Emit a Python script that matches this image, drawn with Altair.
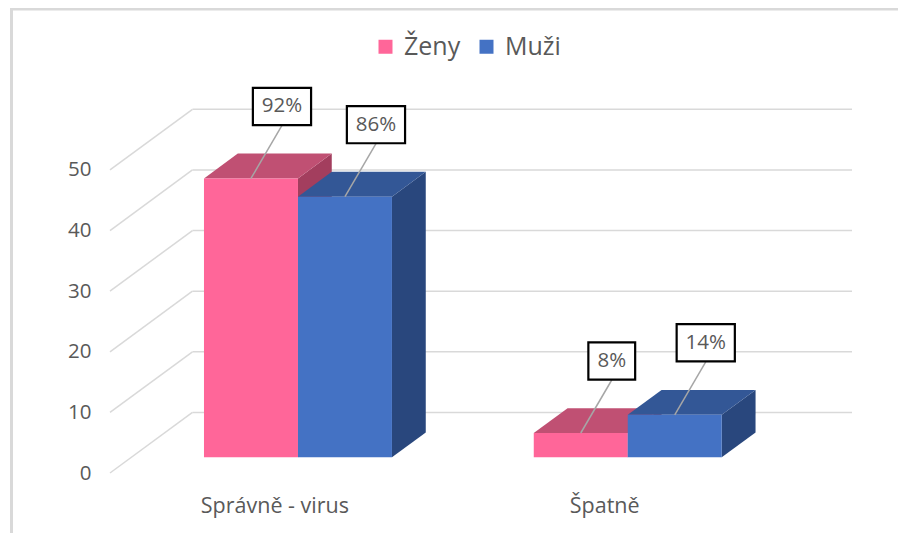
import altair as alt
import pandas as pd

# ---------------- data ----------------
categories = ["Správně - virus", "Špatně"]
series = ["Ženy", "Muži"]
zeny = [46, 4]
muzi = [43, 7]
zeny_labels = ["92%", "8%"]
muzi_labels = ["86%", "14%"]
y_ticks = [0, 10, 20, 30, 40, 50]

# ---------------- styling / 3D geometry constants ----------------
FONT = "Open Sans"
TEXT = "#595959"
GRID = "#d9d9d9"
front_col = {"Ženy": "#FF6699", "Muži": "#4472C4"}
top_col = {"Ženy": "#C05073", "Muži": "#335796"}
side_col = {"Ženy": "#A33E5E", "Muži": "#29477D"}

DX = 0.25      # depth of the floor in category units (x)
DY = 10        # depth of the floor in value units (y)
D0, D1 = 0.26, 0.67   # front / back of the bars as fraction of depth
GROUP_OFF = 0.22
BW = 0.285
W, H = 742, 400
XMAX = 2 + DX
YMAX = 66

values = {"Ženy": zeny, "Muži": muzi}
labels = {"Ženy": zeny_labels, "Muži": muzi_labels}

front_rows, top_rows, side_rows = [], [], []
for i, cat in enumerate(categories):
    for j, s in enumerate(series):
        v = values[s][i]
        bid = f"{i}-{j}"
        x0 = i + GROUP_OFF + j * BW
        x1 = x0 + BW
        fx0, fx1 = x0 + D0 * DX, x1 + D0 * DX
        bx0, bx1 = x0 + D1 * DX, x1 + D1 * DX
        fyt, fyb = v + D0 * DY, D0 * DY
        byt, byb = v + D1 * DY, D1 * DY
        front_rows.append(dict(series=s, x=fx0, x2=fx1, y=fyb, y2=fyt,
                               cx=(fx0 + fx1) / 2, label=labels[s][i],
                               box=("M-0.97,-0.62h1.94v1.24h-1.94Z" if len(labels[s][i]) > 2
                                    else "M-0.78,-0.62h1.56v1.24h-1.56Z")))
        for xx, lo, hi in [(fx0, fyt, fyt), (bx0, fyt, byt), (fx1, fyt, byt), (bx1, byt, byt)]:
            top_rows.append(dict(bid=bid, col=top_col[s], x=xx, lo=lo, hi=hi))
        for xx, lo, hi in [(fx1, fyb, fyt), (bx1, byb, byt)]:
            side_rows.append(dict(bid=bid, col=side_col[s], x=xx, lo=lo, hi=hi))

front = pd.DataFrame(front_rows)
tops = pd.DataFrame(top_rows)
sides = pd.DataFrame(side_rows)
grid = pd.DataFrame({"v": y_ticks,
                     "x0": [0] * len(y_ticks), "x1": [DX] * len(y_ticks),
                     "x2": [2 + DX] * len(y_ticks),
                     "vb": [t + DY for t in y_ticks]})
cats = pd.DataFrame({"cat": categories, "x": [i + 0.5 for i in range(len(categories))], "y": [0] * len(categories)})

xs = alt.Scale(domain=[0, XMAX], nice=False, zero=False)
ys = alt.Scale(domain=[0, YMAX], nice=False, zero=False)

diag = alt.Chart(grid).mark_rule(color=GRID, strokeWidth=1.5).encode(
    x=alt.X("x0:Q", scale=xs, axis=None), x2="x1:Q",
    y=alt.Y("v:Q", scale=ys, axis=alt.Axis(values=y_ticks, ticks=False, domain=False, grid=False,
                                           labelPadding=19, labelFontSize=20.5, labelColor=TEXT,
                                           labelFont=FONT, title=None)),
    y2="vb:Q")
back = alt.Chart(grid).mark_rule(color=GRID, strokeWidth=1.5).encode(
    x=alt.X("x1:Q", scale=xs), x2="x2:Q",
    y=alt.Y("vb:Q", scale=ys))

side_l = alt.Chart(sides).mark_area(opacity=1, interpolate="linear").encode(
    x=alt.X("x:Q", scale=xs), y=alt.Y("lo:Q", scale=ys), y2="hi:Q",
    color=alt.Color("col:N", scale=None), detail="bid:N")
top_l = alt.Chart(tops).mark_area(opacity=1, interpolate="linear").encode(
    x=alt.X("x:Q", scale=xs), y=alt.Y("lo:Q", scale=ys), y2="hi:Q",
    color=alt.Color("col:N", scale=None), detail="bid:N")

front_l = alt.Chart(front).mark_rect().encode(
    x=alt.X("x:Q", scale=xs), x2="x2:Q",
    y=alt.Y("y:Q", scale=ys), y2="y2:Q",
    color=alt.Color("series:N",
                    scale=alt.Scale(domain=series, range=[front_col[s] for s in series]),
                    legend=alt.Legend(title=None, orient="none", direction="horizontal",
                                      legendX=263, legendY=-39, symbolType="square",
                                      symbolSize=196, symbolStrokeWidth=0, labelFontSize=25,
                                      labelFont=FONT, labelColor=TEXT, labelOffset=6,
                                      columnPadding=13)))

LDX, LDY = 31, -72
leader = alt.Chart(front).mark_rule(color="#a6a6a6", strokeWidth=1.5, x2Offset=LDX, y2Offset=LDY + 19).encode(
    x=alt.X("cx:Q", scale=xs), x2="cx:Q", y=alt.Y("y2:Q", scale=ys), y2="y2:Q")
boxes = alt.Chart(front).mark_point(filled=False, fill="white", fillOpacity=1, stroke="black",
                                    strokeWidth=2.2, opacity=1, xOffset=LDX, yOffset=LDY).encode(
    x=alt.X("cx:Q", scale=xs), y=alt.Y("y2:Q", scale=ys),
    shape=alt.Shape("box:N", scale=None), size=alt.value(3600))
btext = alt.Chart(front).mark_text(font=FONT, fontSize=20.5, color=TEXT, dx=LDX, dy=LDY,
                                   baseline="middle", align="center").encode(
    x=alt.X("cx:Q", scale=xs), y=alt.Y("y2:Q", scale=ys), text="label:N")

cat_text = alt.Chart(cats).mark_text(font=FONT, fontSize=21.5, color=TEXT, dy=34,
                                     baseline="middle", align="center").encode(
    x=alt.X("x:Q", scale=xs), y=alt.Y("y:Q", scale=ys), text="cat:N")

one = pd.DataFrame({"a": [0]})
frame_v = alt.Chart(one).mark_rule(color=GRID, strokeWidth=3).encode(
    x=alt.value(-98.5), y=alt.value(-64), y2=alt.value(600))
frame_h = alt.Chart(one).mark_rule(color=GRID, strokeWidth=3).encode(
    x=alt.value(-100), x2=alt.value(900), y=alt.value(-64))

chart = alt.layer(diag, back, side_l, top_l, front_l, leader, boxes, btext, cat_text, frame_v, frame_h).properties(
    width=W, height=H,
    background="white",
    autosize=alt.AutoSizeParams(type="none"),
    padding={"left": 102, "top": 65, "right": 46, "bottom": 60},
).configure_view(strokeWidth=0, stroke="transparent")

chart.save("out.html", embed_options={"renderer": "svg", "actions": False})
